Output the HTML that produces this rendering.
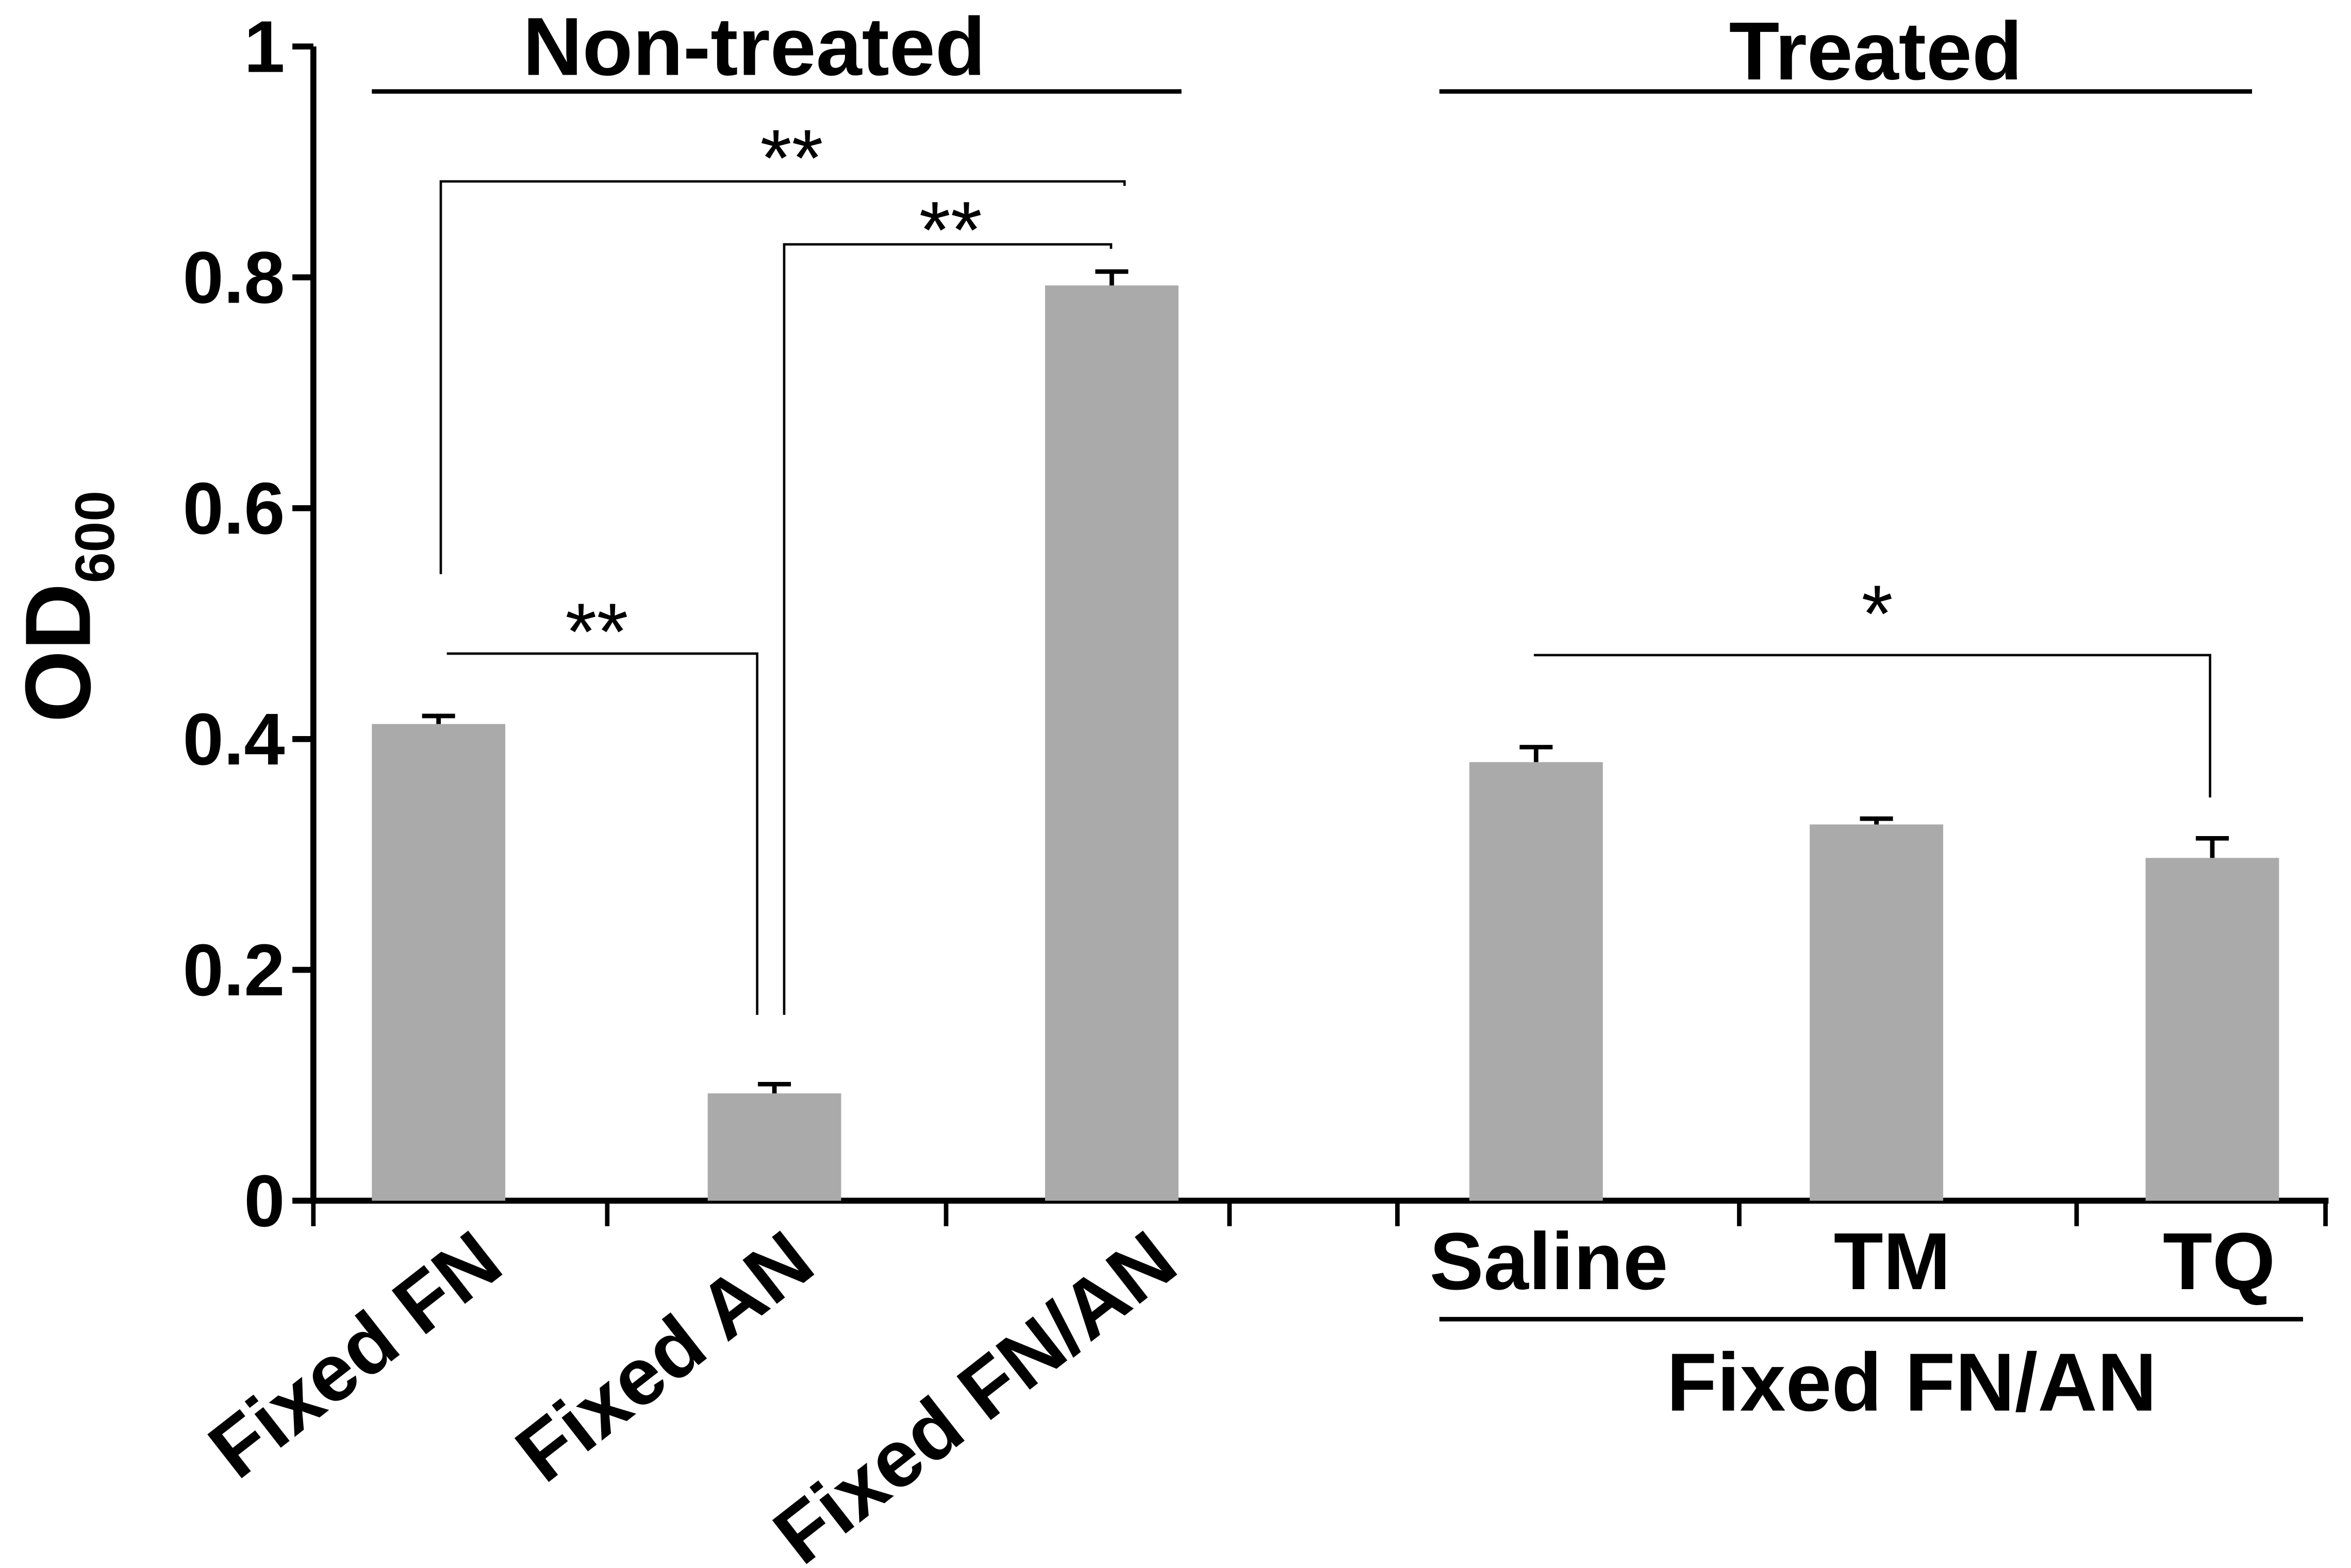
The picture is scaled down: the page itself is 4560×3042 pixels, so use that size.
<!DOCTYPE html>
<html><head><meta charset="utf-8"><style>
html,body{margin:0;padding:0;background:#fff;}
svg{display:block;}
text{font-family:"Liberation Sans",Arial,sans-serif;}
</style></head><body>
<svg id="chart" width="4560" height="3042" viewBox="0 0 1568 1046" xmlns="http://www.w3.org/2000/svg">
<g id="axes"></g><g id="bars"></g><g id="annot"></g>
</svg>
<script>
const categories = ["Fixed FN","Fixed AN","Fixed FN/AN","Saline","TM","TQ"];
const values = [0.413, 0.093, 0.793, 0.38, 0.326, 0.297];
const errors = [0.007, 0.008, 0.012, 0.013, 0.005, 0.017];
const yTicks = [0, 0.2, 0.4, 0.6, 0.8, 1];
const yTickLabels = ["0","0.2","0.4","0.6","0.8","1"];

const NS = "http://www.w3.org/2000/svg";
const Y0 = 801, Y1 = 31, XA = 209;
function y(v){ return Y0 - (Y0 - Y1) * v; }
const barLeft = [248, 472, 697, 980, 1207, 1431];
const BW = 89;
function mk(tag, attrs, parent, txt){
  const e = document.createElementNS(NS, tag);
  for (const k in attrs) e.setAttribute(k, attrs[k]);
  if (txt !== undefined) e.textContent = txt;
  parent.appendChild(e); return e;
}
const axes = document.getElementById('axes');
const bars = document.getElementById('bars');
const annot = document.getElementById('annot');

let e = mk('line', {x1:XA, y1:Y1, x2:XA, y2:Y0+2, stroke:'#000','stroke-width':4}, axes);


yTicks.forEach((t, i) => {
  let tk = mk('line', {x1:XA-14, y1:y(t), x2:XA, y2:y(t), stroke:'#000','stroke-width':4}, axes);
  
  
  let lb = mk('text', {x:190, y:y(t)+17, 'text-anchor':'end', 'font-size':49, 'font-weight':'bold'}, axes, yTickLabels[i]);
  
  
});
e = mk('line', {x1:XA-2, y1:Y0, x2:1553, y2:Y0, stroke:'#000','stroke-width':4}, axes);


[209, 405, 631, 820, 932, 1160, 1385, 1551].forEach(x => {
  let tk = mk('line', {x1:x, y1:Y0, x2:x, y2:818, stroke:'#000','stroke-width':3}, axes);
  
  
});
e = mk('text', {transform:'translate(60,482) rotate(-90)', 'font-size':62, 'font-weight':'bold'}, axes);


e.innerHTML = 'OD<tspan font-size="37" dy="16">600</tspan>';

categories.forEach((c, i) => {
  const x = barLeft[i], v = values[i], er = errors[i];
  let r = mk('rect', {x:x, y:y(v), width:BW, height:Y0 - y(v), fill:'#aaaaaa'}, bars);
  
  
  const cx = x + BW/2;
  let eb = mk('path', {d:`M${cx} ${y(v)} V${y(v+er)} M${cx-11} ${y(v+er)} H${cx+11}`, stroke:'#000','stroke-width':3, fill:'none'}, bars);
  
  
});

[[338,848],[546,848],[788,848]].forEach((p, i) => {
  let t = mk('text', {transform:`translate(${p[0]},${p[1]}) rotate(-38)`, 'text-anchor':'end', 'font-size':54, 'font-weight':'bold'}, axes, categories[i]);
  
  
});
[[1033,3],[1262,4],[1480,5]].forEach(p => {
  let t = mk('text', {x:p[0], y:860, 'text-anchor':'middle', 'font-size':54, 'font-weight':'bold'}, axes, categories[p[1]]);
  
  
});
e = mk('line', {x1:960, y1:880, x2:1536, y2:880, stroke:'#000','stroke-width':3}, axes);


e = mk('text', {x:1275, y:941, 'text-anchor':'middle', 'font-size':55, 'font-weight':'bold'}, axes, 'Fixed FN/AN');



e = mk('line', {x1:248, y1:61, x2:788, y2:61, stroke:'#000','stroke-width':3}, annot);


e = mk('text', {x:503, y:50, 'text-anchor':'middle', 'font-size':55, 'font-weight':'bold'}, annot, 'Non-treated');


e = mk('line', {x1:960, y1:61, x2:1502, y2:61, stroke:'#000','stroke-width':3}, annot);


e = mk('text', {x:1251, y:53, 'text-anchor':'middle', 'font-size':55, 'font-weight':'bold'}, annot, 'Treated');



const br = [
  ['M294 383 V121 H750 V124', 528, 124, '**'],
  ['M523 677 V163 H741 V166', 634, 172, '**'],
  ['M298 436 H505 V677', 398, 440, '**'],
  ['M1023 437 H1474 V532', 1252, 428, '*']
];
br.forEach(b => {
  let p = mk('path', {d:b[0], stroke:'#000','stroke-width':1.6, fill:'none'}, annot);
  
  
  let t = mk('text', {x:b[1], y:b[2], 'text-anchor':'middle', 'font-size':54}, annot, b[3]);
  
  
});
</script>
</body></html>
